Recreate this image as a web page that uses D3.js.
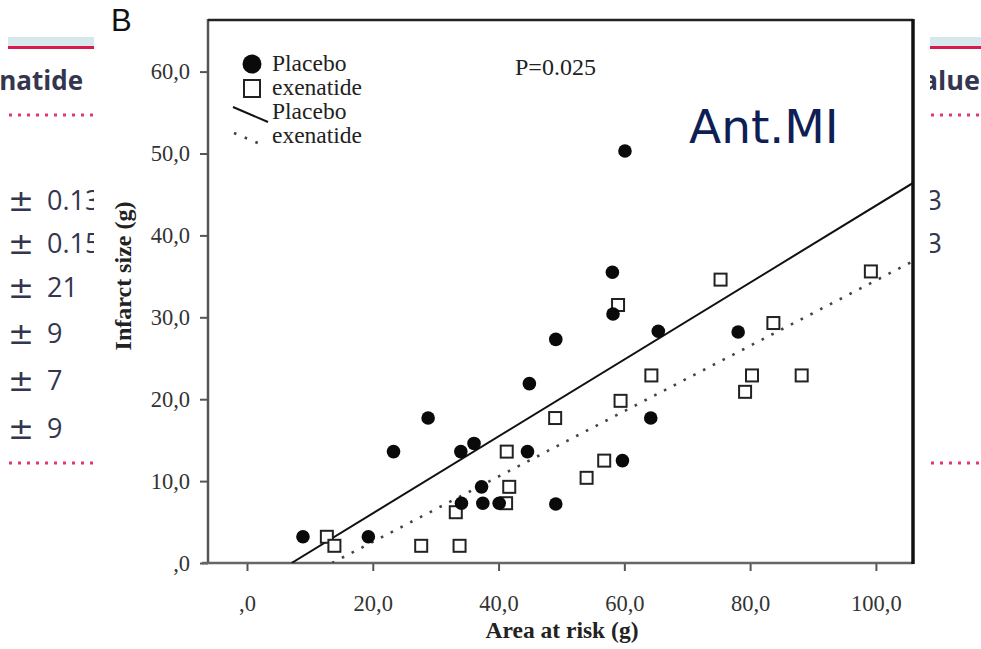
<!DOCTYPE html>
<html lang="en">
<head>
    <meta charset="UTF-8">
    <title>Infarct size vs area at risk</title>
    <script src="https://d3js.org/d3.v7.min.js"></script>
    <style>
        body { margin: 0; background: #fff; }
        svg { display: block; }
    </style>
</head>
<body>
<svg width="981" height="649" viewBox="0 0 981 649"></svg>
<script>

    // values
    const placeboX = [8.9, 19.3, 23.3, 28.8, 34.0, 36.1, 37.3, 34.1, 37.5, 40.1, 44.9, 44.6,
                      49.1, 49.1, 58.1, 58.2, 59.7, 60.1, 64.2, 65.4, 78.1];
    const placeboY = [3.2, 3.2, 13.6, 17.7, 13.6, 14.6, 9.3, 7.3, 7.3, 7.3, 21.9, 13.6,
                      27.3, 7.2, 35.5, 30.4, 12.5, 50.3, 17.7, 28.3, 28.2];
    const exenatideX = [12.7, 13.9, 27.7, 33.8, 33.2, 41.2, 41.7, 41.3, 49.0, 54.0,
                        56.8, 59.0, 59.4, 64.3, 75.3, 83.7, 80.3, 79.2, 88.2, 99.2];
    const exenatideY = [3.2, 2.1, 2.1, 2.1, 6.2, 7.3, 9.3, 13.6, 17.7, 10.4,
                        12.5, 31.5, 19.8, 22.9, 34.6, 29.3, 22.9, 20.9, 22.9, 35.6];

    // fitted lines: intercept and slope as drawn
    const fitNames      = ["Placebo", "exenatide"];
    const fitIntercepts = [-3.33, -5.4];
    const fitSlopes     = [0.4696, 0.399];

    const xTicks = [0, 20, 40, 60, 80, 100];
    const yTicks = [0, 10, 20, 30, 40, 50, 60];

    // table behind the figure
    const leftRows  = ["0.13", "0.15", "21", "9", "7", "9"];
    const rightRows = ["0.03", "0.03"];
    const rowY = [210, 253, 297, 343, 390, 438];

    const plotL = 208, plotR = 913, plotT = 20, plotB = 563;
    const x = d3.scaleLinear().domain([-6.2, 105.9]).range([plotL, plotR]);
    const y = d3.scaleLinear().domain([0, 66.3]).range([plotB, plotT]);
    const fmt = d => d === 0 ? ",0" : d.toFixed(1).replace(".", ",");

    const svg = d3.select("svg");
    const defs = svg.append("defs");
    defs.append("clipPath").attr("id", "clipL").append("rect")
        .attr("x", 0).attr("y", 0).attr("width", 94).attr("height", 649);
    defs.append("clipPath").attr("id", "clipR").append("rect")
        .attr("x", 930).attr("y", 0).attr("width", 51).attr("height", 649);
    defs.append("clipPath").attr("id", "clipPlot").append("rect")
        .attr("x", plotL).attr("y", plotT).attr("width", plotR - plotL).attr("height", plotB - plotT);

    drawTable();
    drawChart();

    function drawTable() {
        const tl = svg.append("g").attr("clip-path", "url(#clipL)");
        const tr = svg.append("g").attr("clip-path", "url(#clipR)");
        const textCol = "#34364f";

        [[tl, 8, 94], [tr, 930, 981]].forEach(([g, x0, x1]) => {
            g.append("rect").attr("x", x0).attr("y", 37).attr("width", x1 - x0).attr("height", 9)
                .attr("fill", "#d6e8ec");
            g.append("rect").attr("x", x0).attr("y", 46).attr("width", x1 - x0).attr("height", 3)
                .attr("fill", "#d81b4a");
            [115, 463].forEach(yy => {
                g.append("line").attr("x1", x0 + 1).attr("x2", x1).attr("y1", yy).attr("y2", yy)
                    .attr("stroke", "#e2386a").attr("stroke-width", 3)
                    .attr("stroke-dasharray", "3,6");
            });
        });

        tl.append("text").attr("x", 83).attr("y", 90).attr("text-anchor", "end")
            .attr("font-family", "Open Sans").attr("font-weight", "bold").attr("font-size", 26)
            .attr("fill", textCol).text("Exenatide");
        tr.append("text").attr("x", 980).attr("y", 90).attr("text-anchor", "end")
            .attr("font-family", "Open Sans").attr("font-weight", "bold").attr("font-size", 27)
            .attr("fill", textCol).text("P value");

        tl.selectAll("text.pm").data(leftRows).enter().append("text")
            .attr("class", "pm").attr("x", 21).attr("y", (d, i) => rowY[i] + 1)
            .attr("text-anchor", "middle").attr("font-family", "DejaVu Sans").attr("font-size", 31)
            .attr("fill", textCol).text("±");
        tl.selectAll("text.val").data(leftRows).enter().append("text")
            .attr("class", "val").attr("x", 47).attr("y", (d, i) => rowY[i])
            .attr("font-family", "Open Sans").attr("font-size", 27)
            .attr("fill", textCol).text(d => d);
        tr.selectAll("text.val").data(rightRows).enter().append("text")
            .attr("class", "val").attr("x", 942).attr("y", (d, i) => rowY[i])
            .attr("text-anchor", "end").attr("font-family", "Open Sans").attr("font-size", 27)
            .attr("fill", textCol).text(d => d);
    }

    function drawChart() {
        const serif = "Liberation Serif";

        svg.append("text").attr("x", 111).attr("y", 31)
            .attr("font-family", "Liberation Sans").attr("font-size", 31)
            .attr("fill", "#111").text("B");

        // axes
        const ay = svg.append("g").attr("transform", `translate(${plotL},0)`)
            .call(d3.axisLeft(y).tickValues(yTicks).tickSize(8).tickPadding(10).tickFormat(fmt));
        const ax = svg.append("g").attr("transform", `translate(0,${plotB})`)
            .call(d3.axisBottom(x).tickValues(xTicks).tickSize(8).tickFormat(fmt));
        [ax, ay].forEach(g => {
            g.select(".domain").remove();
            g.selectAll(".tick line").attr("stroke", "#555").attr("stroke-width", 2);
            g.selectAll(".tick text").attr("font-family", serif).attr("font-size", 22.5)
                .attr("fill", "#333");
        });
        ax.selectAll(".tick text").attr("y", 48).attr("dy", 0);

        // frame
        svg.append("line").attr("x1", plotL).attr("x2", plotL).attr("y1", plotT - 1).attr("y2", plotB)
            .attr("stroke", "#555").attr("stroke-width", 2.5);
        svg.append("line").attr("x1", plotL - 6).attr("x2", plotR).attr("y1", plotB).attr("y2", plotB)
            .attr("stroke", "#666").attr("stroke-width", 2.5);
        svg.append("line").attr("x1", plotL).attr("x2", plotR).attr("y1", plotT).attr("y2", plotT)
            .attr("stroke", "#222").attr("stroke-width", 2.5);
        svg.append("line").attr("x1", plotR).attr("x2", plotR).attr("y1", plotT - 1).attr("y2", plotB + 1)
            .attr("stroke", "#111").attr("stroke-width", 3.5);

        // axis titles
        svg.append("text").attr("x", 562).attr("y", 638).attr("text-anchor", "middle")
            .attr("font-family", serif).attr("font-weight", "bold").attr("font-size", 23.5)
            .attr("fill", "#222").text("Area at risk (g)");
        svg.append("text").attr("transform", "translate(131,276) rotate(-90)")
            .attr("text-anchor", "middle")
            .attr("font-family", serif).attr("font-weight", "bold").attr("font-size", 24)
            .attr("fill", "#222").text("Infarct size (g)");

        // fitted lines
        const plot = svg.append("g").attr("clip-path", "url(#clipPlot)");
        const line = d3.line().x(d => x(d[0])).y(d => y(d[1]));
        fitNames.forEach((name, i) => {
            const b = fitIntercepts[i], m = fitSlopes[i];
            const x0 = -b / m, x1 = x.domain()[1];
            plot.append("path")
                .attr("d", line([[x0, 0], [x1, b + m * x1]]))
                .attr("fill", "none")
                .attr("stroke", i === 0 ? "#111" : "#444")
                .attr("stroke-width", i === 0 ? 2 : 2.6)
                .attr("stroke-dasharray", i === 0 ? null : "2.6,8.4");
        });

        // points
        svg.append("g").selectAll("rect.exe")
            .data(exenatideX.map((v, i) => [v, exenatideY[i]]))
            .enter().append("rect")
            .attr("class", "exe")
            .attr("x", d => x(d[0]) - 6).attr("y", d => y(d[1]) - 6)
            .attr("width", 12).attr("height", 12)
            .attr("fill", "#fff").attr("stroke", "#222").attr("stroke-width", 2);
        svg.append("g").selectAll("circle.pla")
            .data(placeboX.map((v, i) => [v, placeboY[i]]))
            .enter().append("circle")
            .attr("class", "pla")
            .attr("cx", d => x(d[0])).attr("cy", d => y(d[1])).attr("r", 6.8)
            .attr("fill", "#0a0a0a");

        // legend
        const lg = svg.append("g");
        lg.append("circle").attr("cx", 252).attr("cy", 64).attr("r", 9.5).attr("fill", "#0a0a0a");
        lg.append("rect").attr("x", 244).attr("y", 80).attr("width", 16).attr("height", 17)
            .attr("fill", "#fff").attr("stroke", "#222").attr("stroke-width", 2);
        lg.append("line").attr("x1", 233).attr("y1", 107).attr("x2", 268).attr("y2", 122)
            .attr("stroke", "#111").attr("stroke-width", 2);
        lg.append("line").attr("x1", 234).attr("y1", 133).attr("x2", 260).attr("y2", 144)
            .attr("stroke", "#444").attr("stroke-width", 2.6).attr("stroke-dasharray", "2.6,9");
        const legendText = ["Placebo", "exenatide", "Placebo", "exenatide"];
        lg.selectAll("text").data(legendText).enter().append("text")
            .attr("x", 272).attr("y", (d, i) => 71 + i * 24)
            .attr("font-family", serif).attr("font-size", 23.5).attr("fill", "#222")
            .text(d => d);

        svg.append("text").attr("x", 515).attr("y", 75)
            .attr("font-family", serif).attr("font-size", 24).attr("fill", "#222")
            .text("P=0.025");

        svg.append("text").attr("x", 689).attr("y", 143)
            .attr("font-family", "DejaVu Sans").attr("font-size", 47).attr("fill", "#0f1f55")
            .text("Ant.MI");
    }
</script>
</body>
</html>
